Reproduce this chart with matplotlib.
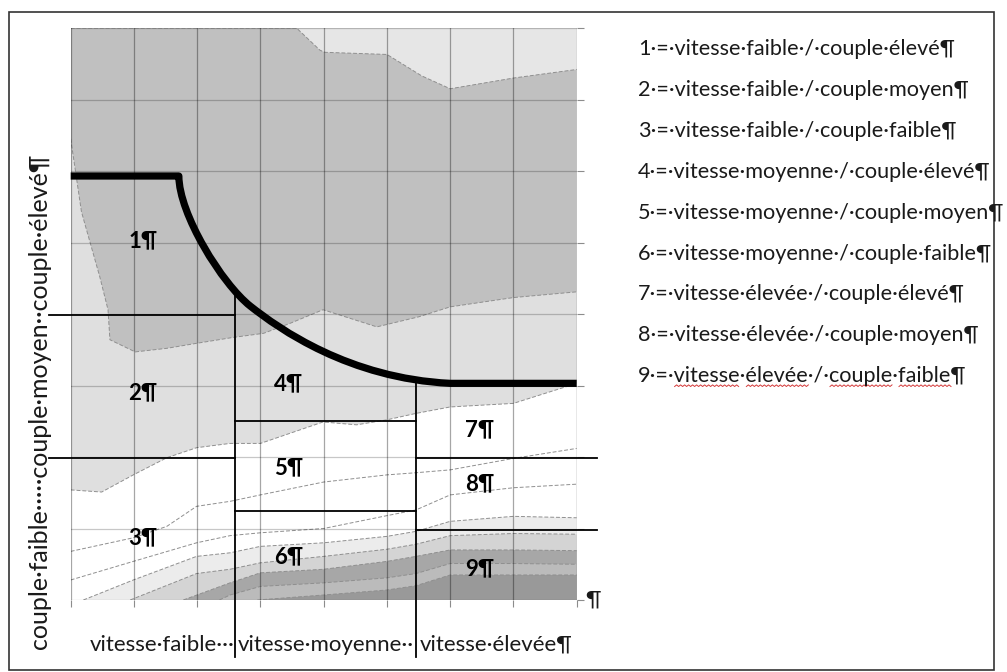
import numpy as np
import matplotlib
matplotlib.use("Agg")
import matplotlib.pyplot as plt
from matplotlib.lines import Line2D
from matplotlib.patches import Rectangle, PathPatch
from matplotlib.path import Path

plt.rcParams['font.family'] = ['Lato', 'DejaVu Sans']

W, H = 1007, 672

# ---------------------------------------------------------------------------
# Map grid: 8 speed columns x 8 torque rows
# ---------------------------------------------------------------------------
COLS = np.arange(9)
ROWS = np.arange(9)

# Contour boundaries (x in columns, y in rows)
TOP_X = [0, 3.57, 3.94, 4.02, 5.0, 5.55, 6.0, 7.0, 8.0]
TOP_Y = [8, 8, 7.69, 7.66, 7.63, 7.33, 7.15, 7.30, 7.42]

MED_X = [0, 0.17, 0.31, 0.46, 0.59, 0.62, 1.02, 1.52, 1.99, 2.55, 3.05, 3.47,
         3.99, 4.84, 5.5, 6.0, 7.0, 8.0]
MED_Y = [6.45, 5.43, 4.99, 4.52, 4.06, 3.64, 3.47, 3.52, 3.59, 3.67, 3.73, 3.87,
         4.06, 3.82, 3.96, 4.10, 4.23, 4.31]

BAND_X = [0, 0.49, 0.99, 1.52, 1.99, 2.52, 3.0, 3.99, 4.52, 5.0, 5.46, 6.0, 7.0, 8.0]
BAND_Y = [1.54, 1.51, 1.75, 1.99, 2.13, 2.19, 2.19, 2.49, 2.45, 2.52, 2.61, 2.70, 2.75, 3.03]

# dashed iso-lines inside the white zone
D1_X = [0, 0.99, 1.52, 1.99, 2.52, 3.0, 4.0, 5.0, 5.46, 6.0, 7.0, 8.0]
D1_Y = [0.68, 0.87, 1.03, 1.31, 1.38, 1.47, 1.65, 1.75, 1.78, 1.82, 1.98, 2.12]
D2_X = [0, 0.99, 1.99, 2.52, 3.0, 4.0, 5.0, 5.46, 6.0, 7.0, 8.0]
D2_Y = [0.28, 0.54, 0.80, 0.90, 0.94, 1.00, 1.18, 1.26, 1.47, 1.57, 1.62]

# low-torque filled bands (start on the bottom edge)
F_X = [
    [0.2, 0.99, 1.99, 2.52, 3.0, 4.0, 5.0, 5.46, 6.0, 7.0, 8.0],
    [0.94, 1.99, 2.52, 3.0, 4.0, 5.0, 5.46, 6.0, 7.0, 8.0],
    [1.78, 2.52, 3.0, 4.0, 5.0, 5.46, 6.0, 7.0, 8.0],
    [2.35, 2.52, 3.0, 4.0, 5.0, 5.46, 6.0, 7.0, 8.0],
    [2.95, 4.0, 5.0, 5.46, 6.0, 7.0, 8.0],
]
F_Y = [
    [0, 0.28, 0.61, 0.66, 0.75, 0.80, 0.89, 0.96, 1.10, 1.17, 1.15],
    [0, 0.37, 0.43, 0.52, 0.61, 0.71, 0.78, 0.90, 0.93, 0.92],
    [0, 0.24, 0.38, 0.43, 0.54, 0.61, 0.70, 0.70, 0.69],
    [0, 0.07, 0.19, 0.24, 0.31, 0.37, 0.51, 0.51, 0.50],
    [0, 0.07, 0.14, 0.20, 0.35, 0.35, 0.35],
]
F_COLORS = ['#ececec', '#d4d4d4', '#a7a7a7', '#bbbbbb', '#999999']

# thick limit curve: flat, two cubic arcs, flat (vertices + control points)
CURVE_X = [0.0, 1.71, 1.71, 2.39, 2.84, 3.30, 4.40, 6.00, 8.00]
CURVE_Y = [5.93, 5.93, 5.40, 4.425, 4.11, 3.79, 3.10, 3.03, 3.03]
CURVE_CODES = [Path.MOVETO, Path.LINETO,
               Path.CURVE4, Path.CURVE4, Path.CURVE4,
               Path.CURVE4, Path.CURVE4, Path.CURVE4,
               Path.LINETO]

# zone boundaries (thin black lines)
V1_X, V2_X = 2.60, 5.46
HLINES = [  # (y, x_start, x_end)
    (3.98, -0.35, V1_X),
    (1.99, -0.35, V1_X),
    (2.51, V1_X, V2_X),
    (1.25, V1_X, V2_X),
    (1.99, V2_X, 8.32),
    (0.98, V2_X, 8.32),
]
VLINES = [  # (x, y_top, y_bottom)
    (V1_X, 4.27, -0.80),
    (V2_X, 3.10, -0.80),
]

# zone numbers
ZONE_X = [1.14, 1.14, 1.14, 3.44, 3.44, 3.44, 6.47, 6.47, 6.47]
ZONE_Y = [5.03, 2.90, 0.87, 3.03, 1.85, 0.60, 2.38, 1.63, 0.44]

LEGEND = [
    "1·=·vitesse·faible·/·couple·élevé¶",
    "2·=·vitesse·faible·/·couple·moyen¶",
    "3·=·vitesse·faible·/·couple·faible¶",
    "4·=·vitesse·moyenne·/·couple·élevé¶",
    "5·=·vitesse·moyenne·/·couple·moyen¶",
    "6·=·vitesse·moyenne·/·couple·faible¶",
    "7·=·vitesse·élevée·/·couple·élevé¶",
    "8·=·vitesse·élevée·/·couple·moyen¶",
    "9·=·vitesse·élevée·/·couple·faible¶",
]
SPELL_WORDS = ["vitesse", "élevée", "couple", "faible"]

XLABELS = ["vitesse·faible···", "vitesse·moyenne··", "vitesse·élevée¶"]
XLABEL_X = [0.305, 2.645, 5.52]
YLABEL = "couple·faible·····couple·moyen··couple·élevé¶"

# ---------------------------------------------------------------------------
fig = plt.figure(figsize=(W / 100, H / 100), dpi=100)
ax = fig.add_axes([70.7 / W, 1 - 600 / H, (576.7 - 70.7) / W, (600 - 28) / H])
ax.set_xlim(0, 8)
ax.set_ylim(0, 8)
ax.set_facecolor('#e6e6e6')

iso = dict(color='#8f8f8f', lw=0.7, ls=(0, (4, 2)), zorder=2)

# stacked filled areas, painted from top to bottom
ax.fill(np.r_[TOP_X, 8, 0], np.r_[TOP_Y, 0, 0], color='#c0c0c0', lw=0, zorder=1)
ax.fill(np.r_[MED_X, 8, 0], np.r_[MED_Y, 0, 0], color='#dfdfdf', lw=0, zorder=1)
ax.fill(np.r_[BAND_X, 8, 0], np.r_[BAND_Y, 0, 0], color='white', lw=0, zorder=1)
for fx, fy, c in zip(F_X, F_Y, F_COLORS):
    ax.fill(np.r_[fx, 8], np.r_[fy, 0], color=c, lw=0, zorder=1)

for bx, by in [(TOP_X, TOP_Y), (MED_X, MED_Y), (BAND_X, BAND_Y),
               (D1_X, D1_Y), (D2_X, D2_Y)] + list(zip(F_X, F_Y)):
    ax.plot(bx, by, **iso)

# grid and ticks
ax.set_xticks(COLS)
ax.set_yticks(ROWS)
ax.set_axisbelow(False)
ax.xaxis.grid(True, color='k', alpha=0.35, lw=0.9)
ax.yaxis.grid(True, color='k', alpha=0.22, lw=0.9)
ax.tick_params(labelbottom=False, labelleft=False, left=False, right=True,
               bottom=True, direction='out', length=5, width=0.8,
               color='#8c8c8c')
for s in ax.spines.values():
    s.set_visible(False)

# zone boundaries
for y, x0, x1 in HLINES:
    ax.plot([x0, x1], [y, y], color='black', lw=1.3, zorder=4, clip_on=False)
for x, y0, y1 in VLINES:
    ax.plot([x, x], [y0, y1], color='black', lw=1.3, zorder=4, clip_on=False)

curve = Path(np.column_stack([CURVE_X, CURVE_Y]), CURVE_CODES)
ax.add_patch(PathPatch(curve, fill=False, ec='black', lw=5.2, zorder=5,
                       capstyle='butt', joinstyle='round', clip_on=False))

for i, (zx, zy) in enumerate(zip(ZONE_X, ZONE_Y)):
    ax.text(zx, zy, f"{i + 1}¶", ha='center', va='center', fontsize=16,
            fontweight='bold', color='black', zorder=6)

ax.text(8.13, 0, "¶", ha='left', va='center', fontsize=16, color='#1a1a1a')

# axis captions
for s, x in zip(XLABELS, XLABEL_X):
    ax.text(x, -0.089, s, transform=ax.get_xaxis_transform(), ha='left',
            va='baseline', fontsize=16, color='#1a1a1a')
fig.text(40 / W, 1 - 401 / H, YLABEL, rotation=90, ha='center', va='center',
         fontsize=18, color='#1a1a1a')

# legend block on the right
leg_texts = []
for i, s in enumerate(LEGEND):
    t = fig.text(638 / W, 1 - (55 + i * 40.9) / H, s, fontsize=15.6,
                 va='baseline', ha='left', color='#1a1a1a')
    leg_texts.append(t)

# page frame
fig.add_artist(Rectangle((9 / W, 1 - 670 / H), 985 / W, 658 / H,
                         transform=fig.transFigure, fill=False,
                         ec='#333333', lw=1.2))

# red spell-check squiggles under the last legend line
fig.canvas.draw()
renderer = fig.canvas.get_renderer()
last = leg_texts[-1]
prop = last.get_fontproperties()
line = LEGEND[-1]
x_left = last.get_window_extent(renderer).x0
y_base = H - 386.5
pos = 0
for word in SPELL_WORDS:
    i = line.index(word, pos)
    pos = i + len(word)
    xa = x_left + renderer.get_text_width_height_descent(line[:i], prop, ismath=False)[0]
    xb = x_left + renderer.get_text_width_height_descent(line[:pos], prop, ismath=False)[0]
    xs = np.arange(xa, xb, 2.0)
    ys = y_base + np.where(np.arange(len(xs)) % 2 == 0, 0.0, 1.6)
    fig.add_artist(Line2D(xs / W, ys / H, transform=fig.transFigure,
                          color='#d43a3a', lw=0.7))

fig.savefig("out.png", dpi=100)
